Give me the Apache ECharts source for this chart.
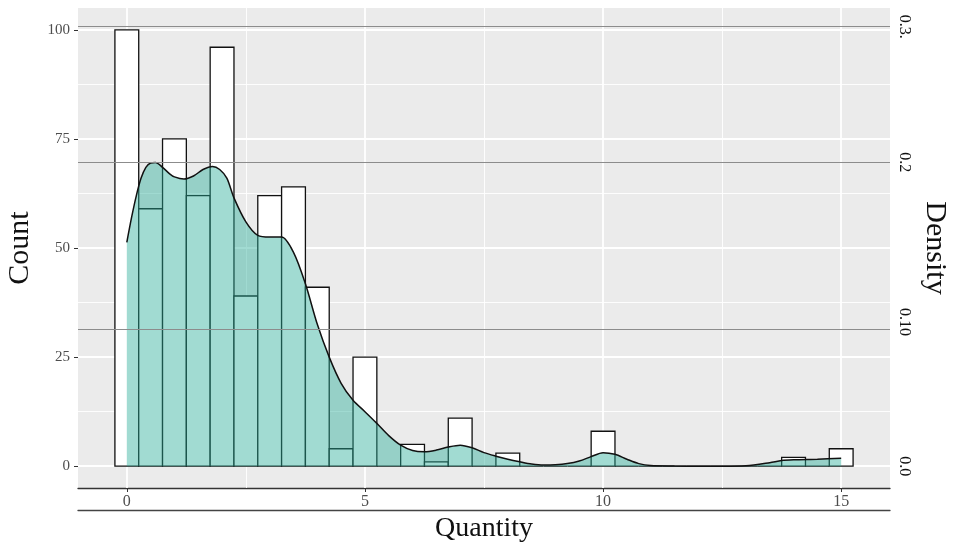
<!DOCTYPE html>
<html>
<head>
<meta charset="utf-8">
<script src="https://cdn.jsdelivr.net/npm/echarts@6/dist/echarts.min.js"></script>
<style>
html, body { margin: 0; padding: 0; background: #fff; }
#chart { width: 955px; height: 549px; }
</style>
</head>
<body>
<div id="chart"></div>
<script>
// histogram, bin width 0.5
const binWidth = 0.5;
const binCenters = [0, 0.5, 1, 1.5, 2, 2.5, 3, 3.5, 4, 4.5, 5, 5.5, 6, 6.5, 7, 7.5,
    8, 8.5, 9, 9.5, 10, 10.5, 11, 11.5, 12, 12.5, 13, 13.5, 14, 14.5, 15];
const binCounts = [100, 59, 75, 62, 96, 39, 62, 64, 41, 4, 25, 0, 5, 1, 11, 0,
    3, 0, 0, 0, 8, 0, 0, 0, 0, 0, 0, 0, 2, 0, 4];

// density curve
const densityX = [0, 0.1, 0.2, 0.3, 0.4, 0.5, 0.6, 0.75, 0.9, 1, 1.2, 1.4, 1.6, 1.8, 1.95,
    2.1, 2.25, 2.5, 2.75, 3, 3.25, 3.5, 3.75, 4, 4.25, 4.5, 4.75, 5, 5.25, 5.5, 5.75,
    6, 6.25, 6.5, 6.75, 7, 7.25, 7.5, 7.75, 8, 8.25, 8.5, 8.75, 9, 9.25, 9.5, 9.75,
    10, 10.25, 10.5, 10.75, 11, 11.5, 12, 12.5, 13, 13.5, 13.75, 14, 14.5, 15];
const densityY = [0.1474, 0.1638, 0.1782, 0.1897, 0.1968, 0.1997, 0.2000, 0.1968, 0.1925, 0.1905,
    0.1891, 0.1911, 0.1954, 0.1974, 0.1954, 0.1897, 0.1767, 0.1609, 0.1520, 0.1509, 0.1509,
    0.1408, 0.1201, 0.0934, 0.0718, 0.0546, 0.0434, 0.0359, 0.0282, 0.0201, 0.0138,
    0.0103, 0.0095, 0.0106, 0.0126, 0.0138, 0.0121, 0.0089, 0.0066, 0.0046, 0.0029,
    0.0014, 0.0007, 0.0009, 0.0017, 0.0034, 0.0063, 0.0089, 0.0078, 0.0046, 0.0017,
    0.0004, 0.0001, 0, 0, 0.0003, 0.0023, 0.0037, 0.0042, 0.0046, 0.0052];

// axes
const countTicks = [0, 25, 50, 75, 100];
const countMinor = [12.5, 37.5, 62.5, 87.5];
const qtyTicks = [0, 5, 10, 15];
const qtyMinor = [2.5, 7.5, 12.5];
const densityTickPos = [0, 0.0949, 0.2001, 0.2893];
const densityTickText = ['0.0', '0.10', '0.2', '0.3.'];
const countPerDensity = 348;

const serif = 'Liberation Serif';

const gridLines = [];
qtyTicks.forEach(v => gridLines.push({ xAxis: v, lineStyle: { width: 1.8 } }));
qtyMinor.forEach(v => gridLines.push({ xAxis: v, lineStyle: { width: 0.9 } }));
countTicks.forEach(v => gridLines.push({ yAxis: v, lineStyle: { width: 1.8 } }));
countMinor.forEach(v => gridLines.push({ yAxis: v, lineStyle: { width: 0.9 } }));

const chart = echarts.init(document.getElementById('chart'));
chart.setOption({
    animation: false,
    grid: {
        left: 78, right: 65, top: 8, bottom: 61,
        outerBoundsMode: 'none', containLabel: false,
        show: true, backgroundColor: '#EBEBEB', borderWidth: 0
    },
    xAxis: [{
        type: 'value', min: -1.025, max: 16.025,
        axisLine: { onZero: false, lineStyle: { color: '#333', width: 1.3 } },
        axisTick: { show: true, customValues: qtyTicks, length: 4, lineStyle: { color: '#333' } },
        axisLabel: { customValues: qtyTicks, color: '#4d4d4d', fontFamily: serif, fontSize: 16, margin: 6 },
        splitLine: { show: false },
        name: 'Quantity', nameLocation: 'middle', nameGap: 23,
        nameTextStyle: { fontFamily: serif, fontSize: 28, color: '#111' }
    }, {
        type: 'value', min: -1.025, max: 16.025, position: 'bottom', offset: 22,
        axisLine: { onZero: false, lineStyle: { color: '#444', width: 1.3 } },
        axisTick: { show: false }, axisLabel: { show: false }, splitLine: { show: false }
    }],
    yAxis: [{
        type: 'value', min: -5, max: 105,
        axisLine: { show: false, onZero: false },
        axisTick: { show: true, customValues: countTicks, length: 4, lineStyle: { color: '#333' } },
        axisLabel: { customValues: countTicks, color: '#4d4d4d', fontFamily: serif, fontSize: 15, margin: 8 },
        splitLine: { show: false },
        name: 'Count', nameLocation: 'middle', nameGap: 43,
        nameTextStyle: { fontFamily: serif, fontSize: 30, color: '#111' }
    }, {
        type: 'value', position: 'right',
        min: -5 / countPerDensity, max: 105 / countPerDensity,
        axisLine: { show: false, onZero: false },
        axisTick: { show: false },
        axisLabel: {
            customValues: densityTickPos, rotate: -90, margin: 6,
            color: '#111', fontFamily: serif, fontSize: 16,
            formatter: function (v) {
                let best = 0;
                densityTickPos.forEach((p, i) => {
                    if (Math.abs(p - v) < Math.abs(densityTickPos[best] - v)) best = i;
                });
                return densityTickText[best];
            }
        },
        splitLine: { show: false },
        name: 'Density', nameLocation: 'middle', nameGap: 30, nameRotate: -90,
        nameTextStyle: { fontFamily: serif, fontSize: 30, color: '#111' }
    }],
    series: [{
        // panel grid lines
        type: 'line', data: [], z: 1, silent: true,
        markLine: {
            z: 1, silent: true, symbol: 'none', label: { show: false },
            lineStyle: { color: '#ffffff', type: 'solid' },
            data: gridLines
        }
    }, {
        type: 'custom', z: 2,
        xAxisIndex: 0, yAxisIndex: 0,
        encode: { x: 0, y: 1 },
        data: binCenters.map((c, i) => [c, binCounts[i]]),
        renderItem: function (params, api) {
            const c = api.value(0), v = api.value(1);
            const p0 = api.coord([c - binWidth / 2, v]);
            const p1 = api.coord([c + binWidth / 2, 0]);
            return {
                type: 'rect',
                shape: { x: p0[0], y: p0[1], width: p1[0] - p0[0], height: p1[1] - p0[1] },
                style: { fill: '#ffffff', stroke: '#111', lineWidth: 1.3 }
            };
        }
    }, {
        type: 'line', z: 3,
        xAxisIndex: 0, yAxisIndex: 1,
        data: densityX.map((x, i) => [x, densityY[i]]),
        smooth: 0.3, showSymbol: false,
        lineStyle: { color: '#111', width: 1.5 },
        areaStyle: { color: 'rgb(40,172,152)', opacity: 0.44 }
    }, {
        // grey density reference lines
        type: 'line', data: [], z: 5, silent: true,
        xAxisIndex: 0, yAxisIndex: 1,
        markLine: {
            z: 10, silent: true, symbol: 'none', label: { show: false },
            lineStyle: { color: '#8c8c8c', type: 'solid', width: 1 },
            data: densityTickPos.slice(1).map(v => ({ yAxis: v }))
        }
    }]
});
</script>
</body>
</html>
